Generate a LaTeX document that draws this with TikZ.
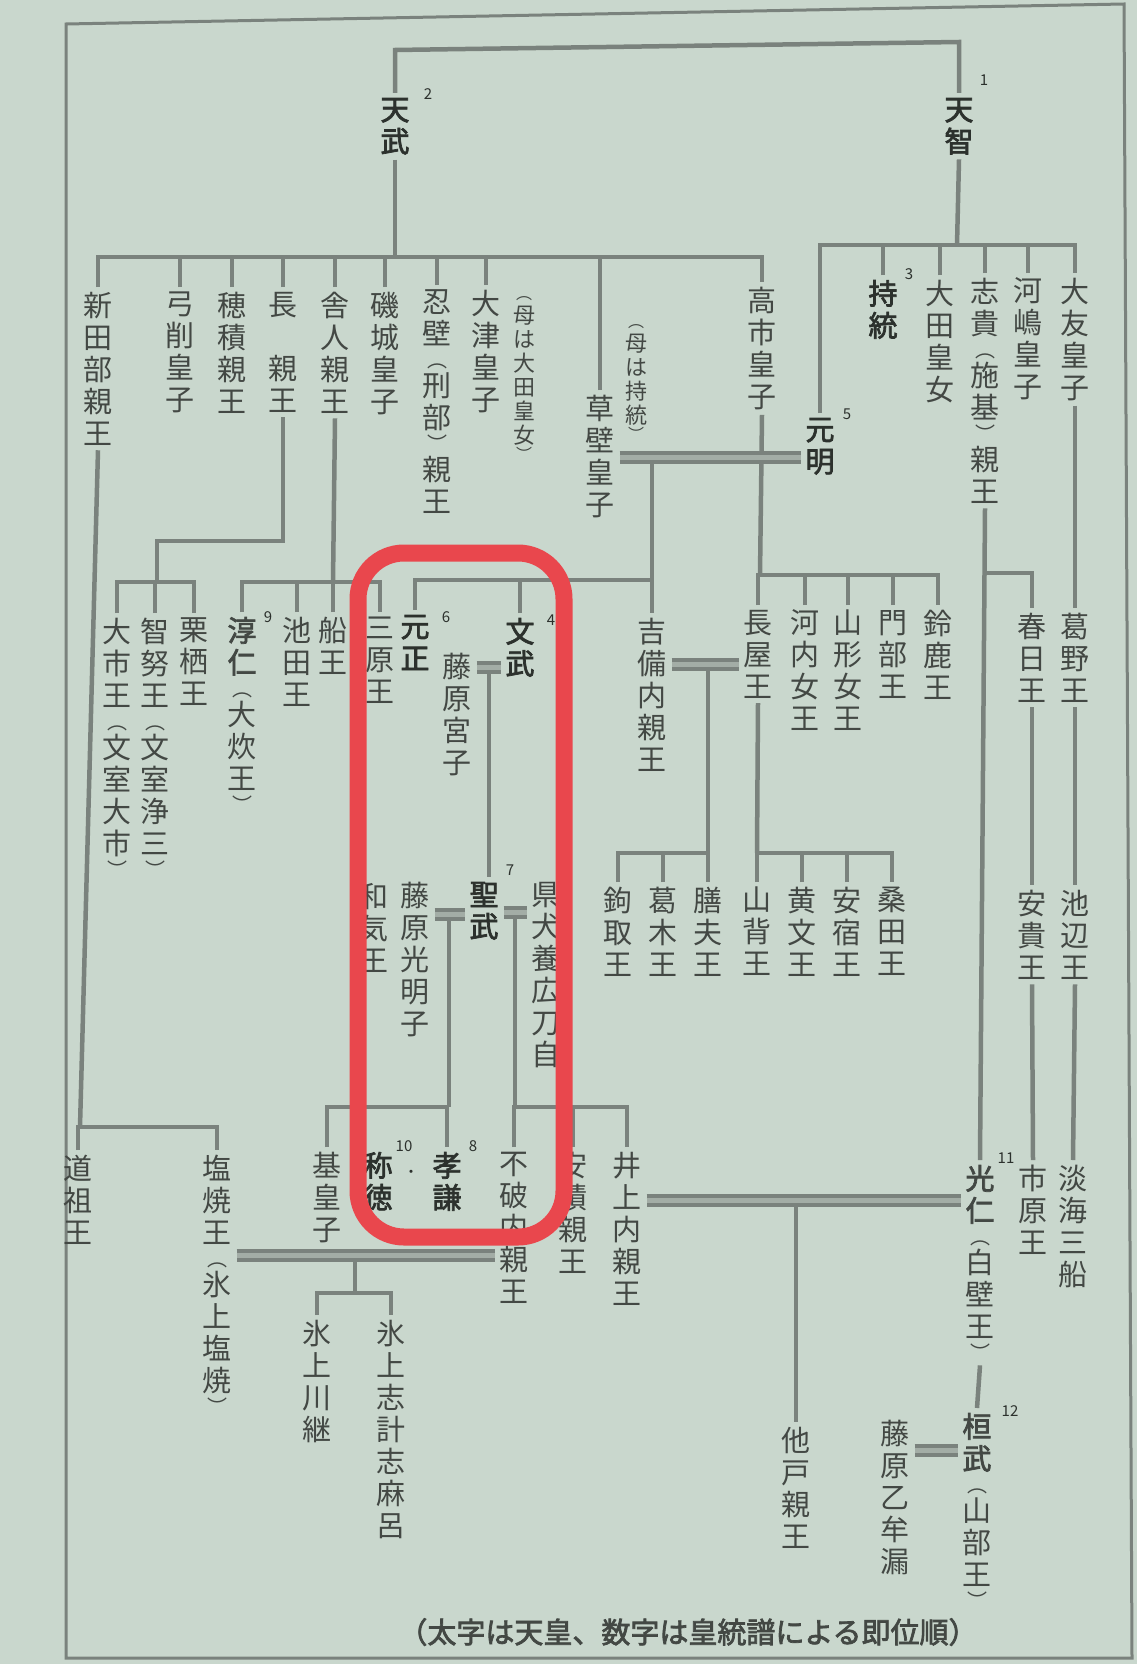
\documentclass[tikz,border=0pt]{standalone}
\usepackage{fontspec}
\newfontfamily\jp[AutoFakeBold=2.5]{Noto Sans CJK JP}
\newcommand\vLP{{\fontsize{20}{20}\selectfont ︵}}
\newcommand\vRP{{\fontsize{20}{20}\selectfont ︶}}
\newcommand\vLPs{{\fontsize{16}{16}\selectfont ︵}}
\newcommand\vRPs{{\fontsize{16}{16}\selectfont ︶}}
\definecolor{bg}{HTML}{C9D7CD}
\definecolor{lnc}{HTML}{7A827D}
\definecolor{dblc}{HTML}{A3ADA6}
\definecolor{txt}{HTML}{434844}
\definecolor{txtb}{HTML}{2C312D}
\definecolor{redc}{HTML}{E9474D}
\tikzset{
  nm/.style={font=\jp\fontsize{29}{32}\selectfont, text=txt, align=center, inner sep=0pt, outer sep=5pt, anchor=north},
  emp/.style={nm, font=\jp\bfseries\fontsize{29}{32}\selectfont, text=txtb},
  note/.style={nm, font=\jp\fontsize{22}{24}\selectfont},
  supn/.style={font=\jp\fontsize{15}{15}\selectfont, text=txtb, inner sep=0pt},
  ln/.style={draw=lnc, line width=4.5pt},
  dbl/.style={draw=lnc, line width=4pt, double=dblc, double distance=5pt},
  redbox/.style={draw=redc, line width=17pt, rounded corners=46pt},
  frame/.style={draw=lnc, line width=3pt},
  captext/.style={font=\jp\bfseries\fontsize{29}{30}\selectfont, text=txt, inner sep=0pt},
}
\begin{document}
\begin{tikzpicture}[x=1pt,y=-1pt]
\useasboundingbox (0,0) rectangle (1137,1664);
\fill[bg] (0,0) rectangle (1137,1664);
\draw[frame] (66,24) -- (1124,4) -- (1132,1658) -- (66,1658) -- cycle;

% ---- generation 1
\node[emp] (tenmu) at (395,93) {天\\武};
\node[supn] (s2) at (428,94) {2};
\node[emp] (tenji) at (959,93) {天\\智};
\node[supn] (s1) at (984,80) {1};
\coordinate (topL) at (395,50);
\coordinate (topR) at (959,42);
\draw[ln] (tenmu.north) -- (topL) -- (topR) -- (tenji.north);

% ---- generation 2 : Tenmu's children
\coordinate (h2) at (395,257);
\draw[ln] (tenmu.south) -- (h2);
\node[nm] (niitabe) at (98,287) {新\\田\\部\\親\\王};
\node[nm] (yuge) at (180,287) {弓\\削\\皇\\子};
\node[nm] (hozumi) at (232,287) {穂\\積\\親\\王};
\node[nm] (naga) at (283,287) {長\\　\\親\\王};
\node[nm] (toneri) at (335,287) {舎\\人\\親\\王};
\node[nm] (shiki) at (385,287) {磯\\城\\皇\\子};
\node[nm] (osakabe) at (437,285) {忍\\壁\\[-9pt]\vLP\\[-3pt]刑\\部\\[-9pt]\vRP\\[-3pt]親\\王};
\node[nm] (otsu) at (486,285) {大\\津\\皇\\子};
\node[note] (otsun) at (524,292) {\vLPs\\母\\は\\大\\田\\皇\\女\\[-7pt]\vRPs};
\node[nm] (kusakabe) at (600,390) {草\\壁\\皇\\子};
\node[note] (kusan) at (636,320) {\vLPs\\母\\は\\持\\統\\[-7pt]\vRPs};
\node[nm] (takechi) at (762,282) {高\\市\\皇\\子};
\draw[ln] (niitabe.north) -- (niitabe.north |- h2) -- (takechi.north |- h2) -- (takechi.north);
\foreach \n in {yuge,hozumi,naga,toneri,shiki,osakabe,otsu,kusakabe}
  \draw[ln] (\n.north) -- (\n.north |- h2);

% ---- generation 2 : Tenji's children
\coordinate (h2r) at (957,245);
\draw[ln] (tenji.south) -- (h2r);
\node[emp] (genmei) at (820,413) {元\\明};
\node[supn] (s5) at (847,414) {5};
\node[emp] (jito) at (883,275) {持\\統};
\node[supn] (s3) at (909,274) {3};
\node[nm] (ota) at (940,275) {大\\田\\皇\\女};
\node[nm] (shikip) at (985,273) {志\\貴\\[-9pt]\vLP\\[-3pt]施\\基\\[-9pt]\vRP\\[-3pt]親\\王};
\node[nm] (kawashima) at (1028,273) {河\\嶋\\皇\\子};
\node[nm] (otomo) at (1075,273) {大\\友\\皇\\子};
\draw[ln] (genmei.north) -- (genmei.north |- h2r) -- (otomo.north |- h2r) -- (otomo.north);
\foreach \n in {jito,ota,shikip,kawashima}
  \draw[ln] (\n.north) -- (\n.north |- h2r);

% ---- generation 3
\coordinate (k3a) at (157,541);
\coordinate (h3a) at (157,582);
\draw[ln] (naga.south) -- (naga.south |- k3a) -- (k3a) -- (h3a);
\node[nm] (oichi) at (117,613) {大\\市\\王\\[-9pt]\vLP\\[-3pt]文\\室\\大\\市\\[-9pt]\vRP};
\node[nm] (chinu) at (155,613) {智\\努\\王\\[-9pt]\vLP\\[-3pt]文\\室\\浄\\三\\[-9pt]\vRP};
\node[nm] (kurusu) at (194,613) {栗\\栖\\王};
\draw[ln] (oichi.north) -- (oichi.north |- h3a) -- (kurusu.north |- h3a) -- (kurusu.north);
\draw[ln] (chinu.north) -- (chinu.north |- h3a);

\coordinate (h3b) at (333,582);
\draw[ln] (toneri.south) -- (h3b);
\node[nm] (junnin) at (242,612) {{\bfseries 淳}\\{\bfseries 仁}\\[-9pt]\vLP\\[-3pt]大\\炊\\王\\[-9pt]\vRP};
\node[supn] (s9) at (268,617) {9};
\node[nm] (ikeda) at (297,612) {池\\田\\王};
\node[nm] (fune) at (333,612) {船\\王};
\node[nm] (mihara) at (380,612) {三\\原\\王};
\draw[ln] (junnin.north) -- (junnin.north |- h3b) -- (mihara.north |- h3b) -- (mihara.north);
\foreach \n in {ikeda,fune}
  \draw[ln] (\n.north) -- (\n.north |- h3b);

\coordinate (m1) at (652,457);
\coordinate (h3c) at (652,580);
\draw[ln] (m1) -- (h3c);
\node[emp] (gensho) at (415,610) {元\\正};
\node[supn] (s6) at (446,617) {6};
\node[emp] (monmu) at (520,613) {文\\武};
\node[supn] (s4) at (551,620) {4};
\node[nm] (kibi) at (652,613) {吉\\備\\内\\親\\王};
\draw[ln] (gensho.north) -- (gensho.north |- h3c) -- (kibi.north |- h3c) -- (kibi.north);
\draw[ln] (monmu.north) -- (monmu.north |- h3c);
\node[nm] (miyako) at (457,648) {藤\\原\\宮\\子};
\coordinate (m2) at (489,667);

\coordinate (h3d) at (760,575);
\draw[ln] (takechi.south) -- (h3d);
\node[nm] (nagaya) at (758,605) {長\\屋\\王};
\node[nm] (kawachi) at (805,605) {河\\内\\女\\王};
\node[nm] (yamagata) at (848,605) {山\\形\\女\\王};
\node[nm] (kadobe) at (893,605) {門\\部\\王};
\node[nm] (suzuka) at (938,605) {鈴\\鹿\\王};
\draw[ln] (nagaya.north) -- (nagaya.north |- h3d) -- (suzuka.north |- h3d) -- (suzuka.north);
\foreach \n in {kawachi,yamagata,kadobe}
  \draw[ln] (\n.north) -- (\n.north |- h3d);
\coordinate (m3) at (708,664);

\coordinate (k3e) at (984,573);
\node[nm] (kasuga) at (1032,608) {春\\日\\王};
\node[nm] (kadono) at (1075,608) {葛\\野\\王};
\draw[ln] (k3e) -- (kasuga.north |- k3e) -- (kasuga.north);
\draw[ln] (otomo.south) -- (kadono.north);

% ---- generation 4
\coordinate (h4a) at (708,853);
\draw[ln] (m3) -- (h4a);
\node[nm] (kagitori) at (618,882) {鉤\\取\\王};
\node[nm] (kazuraki) at (663,882) {葛\\木\\王};
\node[nm] (kashiwade) at (708,882) {膳\\夫\\王};
\draw[ln] (kagitori.north) -- (kagitori.north |- h4a) -- (kashiwade.north |- h4a) -- (kashiwade.north);
\draw[ln] (kazuraki.north) -- (kazuraki.north |- h4a);

\coordinate (h4b) at (757,853);
\draw[ln] (nagaya.south) -- (h4b);
\node[nm] (yamashiro) at (757,882) {山\\背\\王};
\node[nm] (kibumi) at (802,882) {黄\\文\\王};
\node[nm] (asukabe) at (847,882) {安\\宿\\王};
\node[nm] (kuwata) at (892,882) {桑\\田\\王};
\draw[ln] (yamashiro.north) -- (yamashiro.north |- h4b) -- (kuwata.north |- h4b) -- (kuwata.north);
\foreach \n in {kibumi,asukabe}
  \draw[ln] (\n.north) -- (\n.north |- h4b);

\node[nm] (aki) at (1032,885) {安\\貴\\王};
\node[nm] (ikebe) at (1075,885) {池\\辺\\王};
\draw[ln] (kasuga.south) -- (aki.north);
\draw[ln] (kadono.south) -- (ikebe.north);

\node[nm] (wake) at (374,878) {和\\気\\王};
\node[nm] (komyo) at (415,877) {藤\\原\\光\\明\\子};
\node[emp] (shomu) at (484,877) {聖\\武};
\node[supn] (s7) at (510,870) {7};
\node[nm] (hirotoji) at (546,877) {県\\犬\\養\\広\\刀\\自};
\draw[ln] (m2) -- (m2 |- shomu.north);
\coordinate (m4) at (449,914);
\coordinate (m5) at (515,912);

% ---- generation 5
\coordinate (h5a) at (449,1107);
\draw[ln] (m4) -- (h5a);
\node[nm] (motoi) at (327,1147) {基\\皇\\子};
\node[emp] (shotoku) at (378,1147) {称\\徳};
\node[supn] (s10) at (404,1146) {10};
\node[supn] (dot) at (411,1174) {・};
\node[emp] (koken) at (447,1147) {孝\\謙};
\node[supn] (s8) at (473,1146) {8};
\draw[ln] (motoi.north) -- (motoi.north |- h5a) -- (koken.north |- h5a) -- (koken.north);

\coordinate (h5b) at (515,1107);
\draw[ln] (m5) -- (h5b);
\node[nm] (fuwa) at (514,1147) {不\\破\\内\\親\\王};
\node[nm] (asaka) at (573,1147) {安\\積\\親\\王};
\node[nm] (inoue) at (627,1147) {井\\上\\内\\親\\王};
\draw[ln] (fuwa.north) -- (fuwa.north |- h5b) -- (inoue.north |- h5b) -- (inoue.north);
\draw[ln] (asaka.north) -- (asaka.north |- h5b);

\coordinate (h5c) at (80,1127);
\draw[ln] (niitabe.south) -- (h5c);
\node[nm] (funado) at (78,1150) {道\\祖\\王};
\node[nm] (shioyaki) at (217,1150) {塩\\焼\\王\\[-9pt]\vLP\\[-3pt]氷\\上\\塩\\焼\\[-9pt]\vRP};
\draw[ln] (funado.north) -- (funado.north |- h5c) -- (shioyaki.north |- h5c) -- (shioyaki.north);

\node[nm] (ichihara) at (1033,1160) {市\\原\\王};
\node[nm] (omi) at (1073,1160) {淡\\海\\三\\船};
\draw[ln] (aki.south) -- (ichihara.north);
\draw[ln] (ikebe.south) -- (omi.north);

\node[nm] (konin) at (980,1160) {{\bfseries 光}\\{\bfseries 仁}\\[-9pt]\vLP\\[-3pt]白\\壁\\王\\[-9pt]\vRP};
\node[supn] (s11) at (1006,1158) {11};
\draw[ln] (shikip.south) -- (konin.north);

% ---- generation 6
\coordinate (m6) at (355,1255);
\coordinate (h6a) at (355,1293);
\draw[ln] (m6) -- (h6a);
\node[nm] (kawatsugu) at (317,1315) {氷\\上\\川\\継};
\node[nm] (shikeshi) at (391,1315) {氷\\上\\志\\計\\志\\麻\\呂};
\draw[ln] (kawatsugu.north) -- (kawatsugu.north |- h6a) -- (shikeshi.north |- h6a) -- (shikeshi.north);

\coordinate (m7) at (796,1200);
\node[nm] (osabe) at (796,1422) {他\\戸\\親\\王};
\draw[ln] (m7) -- (osabe.north);

\node[nm] (kanmu) at (977,1408) {{\bfseries 桓}\\{\bfseries 武}\\[-9pt]\vLP\\[-3pt]山\\部\\王\\[-9pt]\vRP};
\node[supn] (s12) at (1010,1411) {12};
\draw[ln] (konin.south) -- (kanmu.north);
\node[nm] (otomuro) at (895,1415) {藤\\原\\乙\\牟\\漏};
\coordinate (m8) at (940,1450);

% ---- marriage (double) lines
\draw[dbl] (kusakabe.east |- m1) -- (genmei.west |- m1);
\draw[dbl] (miyako.east |- m2) -- (monmu.west |- m2);
\draw[dbl] (kibi.east |- m3) -- (nagaya.west |- m3);
\draw[dbl] (komyo.east |- m4) -- (shomu.west |- m4);
\draw[dbl] (shomu.east |- m5) -- (hirotoji.west |- m5);
\draw[dbl] (shioyaki.east |- m6) -- (fuwa.west |- m6);
\draw[dbl] (inoue.east |- m7) -- (konin.west |- m7);
\draw[dbl] (otomuro.east |- m8) -- (kanmu.west |- m8);

% ---- caption
\node[captext] (caption) at (688,1632) {（太字は天皇、数字は皇統譜による即位順）};

% ---- red highlight
\draw[redbox] (358,553) rectangle (564,1237);
\end{tikzpicture}
\end{document}
